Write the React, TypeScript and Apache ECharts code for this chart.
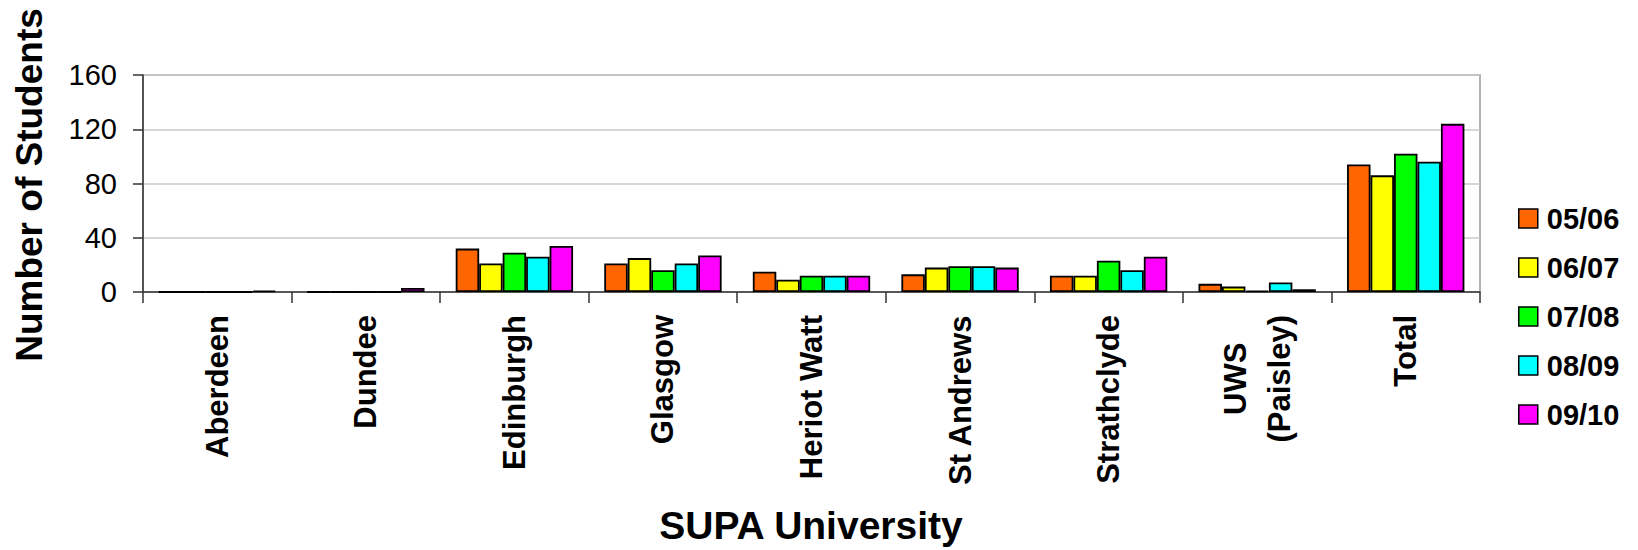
import React, { useEffect, useRef } from 'react';
import * as echarts from 'echarts';

const categories = [
  'Aberdeen',
  'Dundee',
  'Edinburgh',
  'Glasgow',
  'Heriot Watt',
  'St Andrews',
  'Strathclyde',
  'UWS\n(Paisley)',
  'Total',
];
const seriesNames = ['05/06', '06/07', '07/08', '08/09', '09/10'];
const v0506 = [0, 0, 32, 21, 15, 13, 12, 6, 94];
const v0607 = [0, 0, 21, 25, 9, 18, 12, 4, 86];
const v0708 = [0, 0, 29, 16, 12, 19, 23, 1, 102];
const v0809 = [0, 0, 26, 21, 12, 19, 16, 7, 96];
const v0910 = [1, 3, 34, 27, 12, 18, 26, 2, 124];
const seriesValues = [v0506, v0607, v0708, v0809, v0910];
const seriesColors = ['#FF6600', '#FFFF00', '#00FF00', '#00FFFF', '#FF00FF'];
const yMin = 0;
const yMax = 160;
const yInterval = 40;
const yTitle = 'Number of Students';
const xTitle = 'SUPA University';

const FONT = "'Liberation Sans', Arial, Helvetica, sans-serif";

export default function App() {
  const ref = useRef<HTMLDivElement>(null);
  useEffect(() => {
    document.body.style.margin = '0';
    const chart = echarts.init(ref.current as HTMLDivElement, null, { renderer: 'svg' });
    chart.setOption({
      animation: false,
      backgroundColor: '#ffffff',
      textStyle: { fontFamily: FONT },
      grid: {
        left: 143,
        top: 75,
        width: 1337,
        height: 217,
        show: true,
        borderColor: '#999999',
        borderWidth: 1.5,
        containLabel: false,
      },
      legend: {
        orient: 'vertical',
        left: 1513,
        top: 199,
        itemWidth: 19,
        itemHeight: 19,
        itemGap: 20,
        icon: 'rect',
        data: seriesNames,
        itemStyle: { borderColor: '#000', borderWidth: 1.5 },
        textStyle: {
          fontSize: 29,
          fontWeight: 'bold',
          color: '#000',
          fontFamily: FONT,
          padding: [0, 0, 0, 4],
        },
      },
      xAxis: {
        type: 'category',
        data: categories,
        axisLine: { lineStyle: { color: '#333', width: 1.5 } },
        axisTick: { show: true, length: 11, lineStyle: { color: '#333', width: 1.5 } },
        axisLabel: {
          interval: 0,
          rotate: 90,
          margin: 23,
          color: '#000',
          fontSize: 31,
          fontWeight: 'bold',
          fontFamily: FONT,
          formatter: (v: string) =>
            v
              .split('\n')
              .map((l) => `{c|${l}}`)
              .join('\n'),
          rich: {
            c: {
              align: 'center',
              fontSize: 31,
              fontWeight: 'bold',
              fontFamily: FONT,
              color: '#000',
              lineHeight: 44,
            },
          },
        },
      },
      yAxis: {
        type: 'value',
        min: yMin,
        max: yMax,
        interval: yInterval,
        axisLine: { show: true, lineStyle: { color: '#333', width: 1.5 } },
        axisTick: { show: true, length: 10, lineStyle: { color: '#333', width: 1.5 } },
        axisLabel: { margin: 26, fontSize: 29, color: '#000', fontFamily: FONT },
        splitLine: { show: true, lineStyle: { color: '#c8c8c8', width: 1.5 } },
      },
      graphic: [
        {
          type: 'text',
          x: 29,
          y: 185,
          rotation: Math.PI / 2,
          style: {
            text: yTitle,
            font: `bold 37px ${FONT}`,
            fill: '#000',
            textAlign: 'center',
            textVerticalAlign: 'middle',
          },
        },
        {
          type: 'text',
          x: 811,
          y: 525,
          style: {
            text: xTitle,
            font: `bold 39px ${FONT}`,
            fill: '#000',
            textAlign: 'center',
            textVerticalAlign: 'middle',
          },
        },
      ],
      series: seriesNames.map((name, i) => ({
        name,
        type: 'bar',
        data: seriesValues[i],
        barGap: '0%',
        barCategoryGap: '21%',
        itemStyle: { color: seriesColors[i], borderColor: '#000', borderWidth: 1.8 },
      })),
    });
    return () => chart.dispose();
  }, []);
  return <div ref={ref} style={{ width: 1638, height: 550 }} />;
}
